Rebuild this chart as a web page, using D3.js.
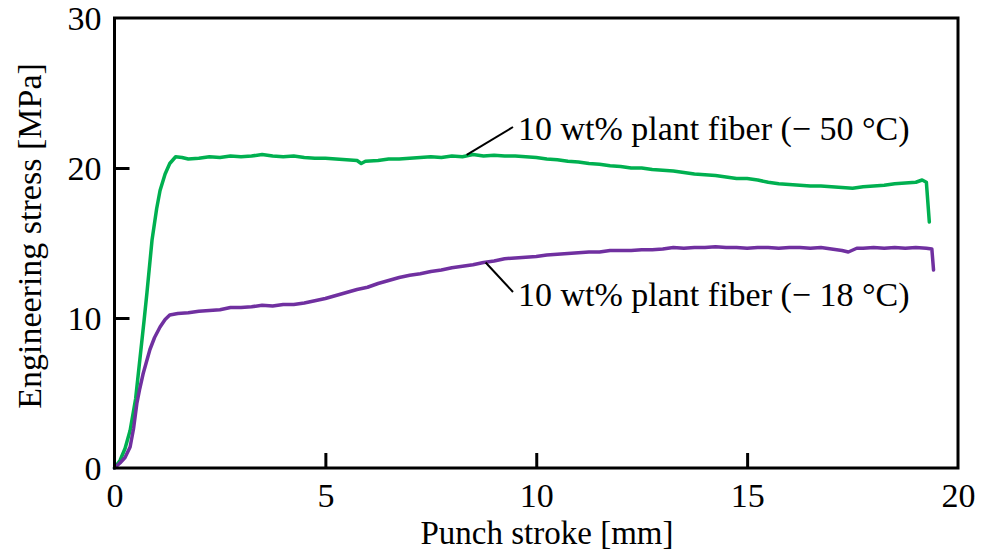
<!DOCTYPE html>
<html>
<head>
<meta charset="utf-8">
<script src="https://cdn.jsdelivr.net/npm/d3@7"></script>
<style>
  html, body { margin: 0; padding: 0; background: #fff; }
  svg { display: block; }
  text { font-family: "Liberation Serif", "Times New Roman", serif; fill: #000; }
</style>
</head>
<body>
<svg id="chart" width="988" height="552"></svg>
<script>
// ---- Data ----
const stroke50 = [0, 0.13, 0.25, 0.37, 0.5, 0.6, 0.7, 0.77, 0.89, 1.0, 1.08, 1.2, 1.31, 1.45, 1.6, 1.75, 2.0, 2.25, 2.5, 2.75, 3.0, 3.25, 3.5, 3.75, 4.0, 4.25, 4.5, 4.75, 5.0, 5.25, 5.5, 5.75, 5.85, 5.95, 6.25, 6.5, 6.75, 7.0, 7.25, 7.5, 7.75, 8.0, 8.25, 8.5, 8.75, 9.0, 9.25, 9.5, 9.75, 10.0, 10.25, 10.5, 10.75, 11.0, 11.25, 11.5, 11.75, 12.0, 12.25, 12.5, 12.75, 13.0, 13.25, 13.5, 13.75, 14.0, 14.25, 14.5, 14.75, 15.0, 15.25, 15.5, 15.75, 16.0, 16.25, 16.5, 16.75, 17.0, 17.25, 17.5, 17.75, 18.0, 18.25, 18.5, 18.75, 19.0, 19.15, 19.25, 19.32];
const stress50 = [0, 0.5, 1.3, 2.5, 4.6, 7.2, 9.8, 11.7, 15.2, 17.3, 18.5, 19.6, 20.3, 20.75, 20.7, 20.6, 20.65, 20.75, 20.7, 20.8, 20.75, 20.8, 20.9, 20.8, 20.75, 20.8, 20.7, 20.65, 20.65, 20.6, 20.55, 20.5, 20.3, 20.45, 20.5, 20.6, 20.6, 20.65, 20.7, 20.75, 20.7, 20.8, 20.75, 20.9, 20.8, 20.85, 20.8, 20.8, 20.75, 20.7, 20.6, 20.55, 20.45, 20.4, 20.3, 20.25, 20.15, 20.1, 20.0, 20.0, 19.9, 19.85, 19.8, 19.7, 19.6, 19.55, 19.5, 19.4, 19.3, 19.3, 19.2, 19.05, 18.95, 18.9, 18.85, 18.8, 18.8, 18.75, 18.7, 18.65, 18.75, 18.8, 18.85, 18.95, 19.0, 19.05, 19.2, 19.05, 16.4];

const stroke18 = [0, 0.13, 0.25, 0.37, 0.45, 0.53, 0.6, 0.68, 0.76, 0.84, 0.95, 1.08, 1.2, 1.31, 1.5, 1.75, 2.0, 2.25, 2.5, 2.75, 3.0, 3.25, 3.5, 3.75, 4.0, 4.25, 4.5, 4.75, 5.0, 5.25, 5.5, 5.75, 6.0, 6.25, 6.5, 6.75, 7.0, 7.25, 7.5, 7.75, 8.0, 8.25, 8.5, 8.75, 9.0, 9.25, 9.5, 9.75, 10.0, 10.25, 10.5, 10.75, 11.0, 11.25, 11.5, 11.75, 12.0, 12.25, 12.5, 12.75, 13.0, 13.25, 13.5, 13.75, 14.0, 14.25, 14.5, 14.75, 15.0, 15.25, 15.5, 15.75, 16.0, 16.25, 16.5, 16.75, 17.0, 17.25, 17.4, 17.6, 17.75, 18.0, 18.25, 18.5, 18.75, 19.0, 19.25, 19.38, 19.42];
const stress18 = [0, 0.33, 0.7, 1.4, 2.6, 4.3, 5.3, 6.3, 7.1, 7.9, 8.7, 9.4, 9.9, 10.2, 10.3, 10.35, 10.45, 10.5, 10.55, 10.7, 10.7, 10.75, 10.85, 10.8, 10.9, 10.9, 11.0, 11.15, 11.3, 11.5, 11.7, 11.9, 12.05, 12.3, 12.5, 12.7, 12.85, 12.95, 13.1, 13.2, 13.35, 13.45, 13.55, 13.7, 13.8, 13.95, 14.0, 14.05, 14.1, 14.2, 14.25, 14.3, 14.35, 14.4, 14.4, 14.5, 14.5, 14.5, 14.55, 14.55, 14.6, 14.7, 14.65, 14.7, 14.7, 14.75, 14.7, 14.7, 14.65, 14.7, 14.7, 14.65, 14.7, 14.7, 14.65, 14.7, 14.6, 14.5, 14.4, 14.65, 14.65, 14.7, 14.65, 14.7, 14.65, 14.7, 14.65, 14.6, 13.2];

const xTicks = [0, 5, 10, 15, 20];
const yTicks = [0, 10, 20, 30];
const label50 = "10 wt% plant fiber (\u2212 50 \u00B0C)";
const label18 = "10 wt% plant fiber (\u2212 18 \u00B0C)";
const xTitle = "Punch stroke [mm]";
const yTitle = "Engineering stress [MPa]";

// ---- Layout ----
const svg = d3.select("#chart");
const plotL = 114.5, plotR = 958, plotT = 18, plotB = 468;
const x = d3.scaleLinear().domain([0, 20]).range([plotL, plotR]);
const y = d3.scaleLinear().domain([0, 30]).range([plotB, plotT]);
const fontSize = 34;

// Curves
const line = d3.line().x(d => x(d[0])).y(d => y(d[1]));
const data50 = stroke50.map((v, i) => [v, stress50[i]]);
const data18 = stroke18.map((v, i) => [v, stress18[i]]);

svg.append("path").datum(data50).attr("d", line)
  .attr("fill", "none").attr("stroke", "#00B050").attr("stroke-width", 3.5)
  .attr("stroke-linejoin", "round").attr("stroke-linecap", "round");
svg.append("path").datum(data18).attr("d", line)
  .attr("fill", "none").attr("stroke", "#7030A0").attr("stroke-width", 3.5)
  .attr("stroke-linejoin", "round").attr("stroke-linecap", "round");

// Axes (ticks inward)
const xAxis = d3.axisBottom(x).tickValues(xTicks).tickSizeInner(-15).tickSizeOuter(0).tickPadding(15);
const gx = svg.append("g").attr("transform", `translate(0,${plotB})`).call(xAxis);
const yAxis = d3.axisLeft(y).tickValues(yTicks).tickSizeInner(-15).tickSizeOuter(0).tickPadding(13);
const gy = svg.append("g").attr("transform", `translate(${plotL},0)`).call(yAxis);
[gx, gy].forEach(g => {
  g.select(".domain").remove();
  g.selectAll(".tick line").attr("stroke", "#000").attr("stroke-width", 3);
  g.selectAll(".tick text").style("font-family", '"Liberation Serif", serif')
    .style("font-size", fontSize + "px").attr("fill", "#000");
});
gx.selectAll(".tick text").attr("dy", "0.71em");
gy.selectAll(".tick text").attr("dy", "0.34em");
gx.selectAll(".tick").filter(d => d === 0 || d === 20).select("line").remove();
gy.selectAll(".tick").filter(d => d === 0 || d === 30).select("line").remove();

// Frame
svg.append("rect").attr("x", plotL).attr("y", plotT)
  .attr("width", plotR - plotL).attr("height", plotB - plotT)
  .attr("fill", "none").attr("stroke", "#000").attr("stroke-width", 3);

// Axis titles
svg.append("text").attr("x", 547).attr("y", 544).attr("text-anchor", "middle")
  .style("font-size", "33px").text(xTitle);
svg.append("text").attr("transform", `translate(41,236) rotate(-90)`).attr("text-anchor", "middle")
  .style("font-size", fontSize + "px").text(yTitle);

// Annotations with leader lines
svg.append("line").attr("x1", x(8.35)).attr("y1", y(20.87)).attr("x2", 513).attr("y2", 127)
  .attr("stroke", "#000").attr("stroke-width", 2);
svg.append("text").attr("x", 518).attr("y", 140).style("font-size", fontSize + "px").text(label50);

svg.append("line").attr("x1", x(8.8)).attr("y1", y(13.7)).attr("x2", 513).attr("y2", 292)
  .attr("stroke", "#000").attr("stroke-width", 2);
svg.append("text").attr("x", 518).attr("y", 306).style("font-size", fontSize + "px").text(label18);
</script>
</body>
</html>
